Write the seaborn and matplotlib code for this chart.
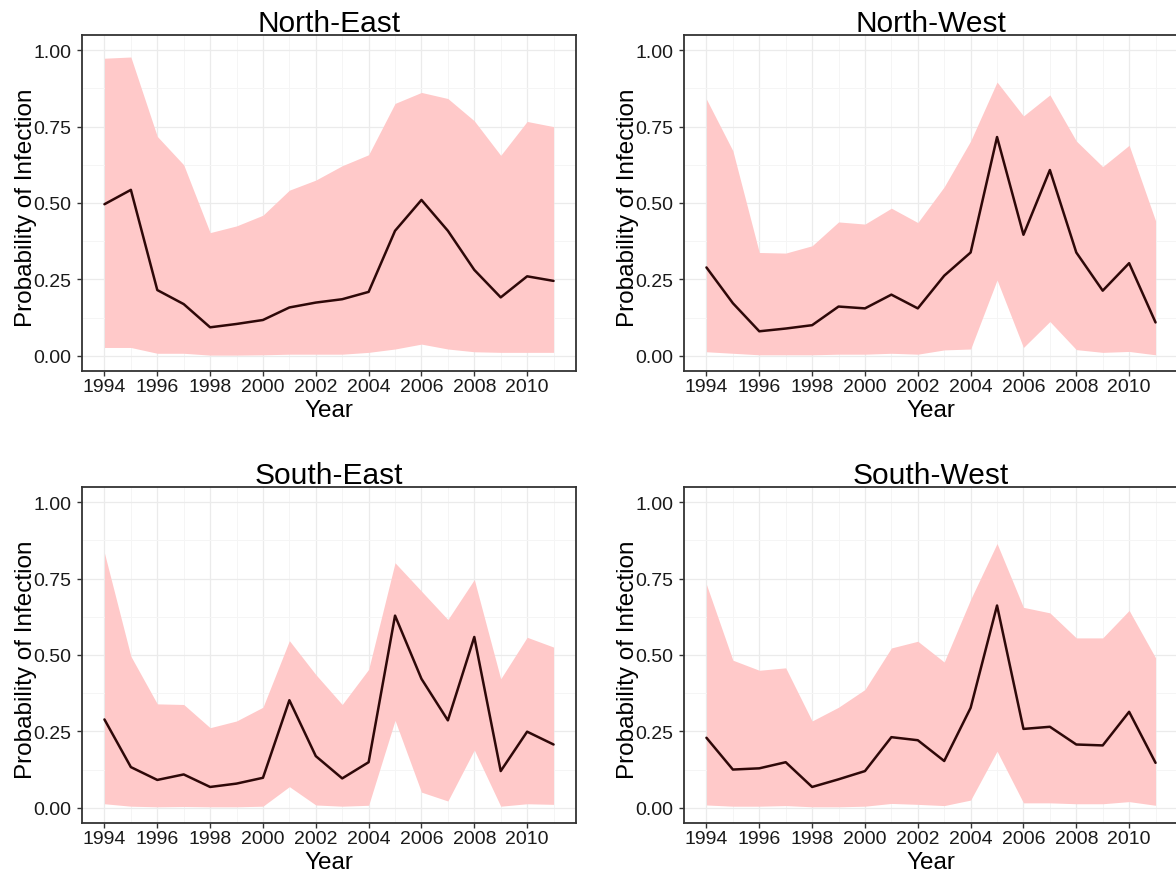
import numpy as np
import pandas as pd
import matplotlib
matplotlib.use("Agg")
import matplotlib.pyplot as plt
import seaborn as sns
from matplotlib.ticker import MultipleLocator

years = list(range(1994, 2012))
regions = ["North-East", "North-West", "South-East", "South-West"]

ne_mean = [0.496, 0.543, 0.215, 0.169, 0.093, 0.104, 0.117, 0.158, 0.174, 0.185, 0.209, 0.409, 0.510, 0.409, 0.281, 0.191, 0.260, 0.245]
ne_upper = [0.974, 0.978, 0.718, 0.625, 0.403, 0.425, 0.460, 0.542, 0.575, 0.622, 0.658, 0.826, 0.862, 0.842, 0.769, 0.656, 0.767, 0.750]
ne_lower = [0.027, 0.027, 0.008, 0.008, 0.002, 0.002, 0.003, 0.005, 0.005, 0.005, 0.011, 0.022, 0.038, 0.022, 0.013, 0.011, 0.011, 0.011]

nw_mean = [0.289, 0.172, 0.080, 0.089, 0.100, 0.161, 0.155, 0.200, 0.155, 0.262, 0.338, 0.716, 0.396, 0.608, 0.338, 0.213, 0.303, 0.109]
nw_upper = [0.840, 0.671, 0.338, 0.336, 0.360, 0.438, 0.431, 0.483, 0.436, 0.553, 0.703, 0.896, 0.785, 0.854, 0.703, 0.619, 0.689, 0.442]
nw_lower = [0.013, 0.008, 0.003, 0.003, 0.003, 0.005, 0.005, 0.008, 0.005, 0.019, 0.022, 0.248, 0.027, 0.112, 0.020, 0.011, 0.014, 0.003]

se_mean = [0.289, 0.133, 0.091, 0.109, 0.068, 0.079, 0.098, 0.352, 0.169, 0.096, 0.149, 0.629, 0.422, 0.286, 0.559, 0.120, 0.249, 0.207]
se_upper = [0.834, 0.496, 0.340, 0.338, 0.262, 0.284, 0.329, 0.547, 0.436, 0.338, 0.453, 0.802, 0.709, 0.616, 0.747, 0.422, 0.558, 0.526]
se_lower = [0.013, 0.005, 0.003, 0.004, 0.003, 0.003, 0.005, 0.069, 0.009, 0.005, 0.008, 0.286, 0.051, 0.022, 0.189, 0.005, 0.013, 0.011]

sw_mean = [0.229, 0.125, 0.129, 0.149, 0.068, 0.093, 0.120, 0.231, 0.221, 0.153, 0.327, 0.662, 0.258, 0.265, 0.207, 0.204, 0.314, 0.147]
sw_upper = [0.731, 0.483, 0.450, 0.458, 0.284, 0.329, 0.387, 0.523, 0.545, 0.477, 0.682, 0.865, 0.656, 0.638, 0.556, 0.556, 0.646, 0.491]
sw_lower = [0.009, 0.005, 0.005, 0.007, 0.003, 0.003, 0.005, 0.014, 0.011, 0.007, 0.025, 0.185, 0.016, 0.016, 0.013, 0.013, 0.020, 0.008]

means = [ne_mean, nw_mean, se_mean, sw_mean]
uppers = [ne_upper, nw_upper, se_upper, sw_upper]
lowers = [ne_lower, nw_lower, se_lower, sw_lower]

ytick_vals = [0.0, 0.25, 0.5, 0.75, 1.0]
ytick_labels = ["0.00", "0.25", "0.50", "0.75", "1.00"]
xtick_vals = list(range(1994, 2011, 2))

sns.set_theme(style="white")
plt.rcParams['font.family'] = ['Liberation Sans', 'DejaVu Sans']

W, H = 1176, 879
fig = plt.figure(figsize=(W / 100, H / 100), dpi=100)

# axes boxes in pixel coords: (left, top)
boxes = [(82, 36), (684, 36), (82, 488), (684, 488)]
bw, bh = 494, 336

for i, reg in enumerate(regions):
    l, t = boxes[i]
    ax = fig.add_axes([l / W, 1 - (t + bh) / H, bw / W, bh / H])
    df = pd.DataFrame({"Year": years, "mean": means[i], "lo": lowers[i], "hi": uppers[i]})
    ax.fill_between(df["Year"], df["lo"], df["hi"], color="#ffc9c9", linewidth=0, zorder=2)
    sns.lineplot(data=df, x="Year", y="mean", ax=ax, color="#2e0808", linewidth=1.8, zorder=3)
    ax.set_xlim(1993.15, 2011.85)
    ax.set_ylim(-0.05, 1.05)
    ax.set_xticks(xtick_vals)
    ax.set_xticklabels([str(v) for v in xtick_vals])
    ax.set_yticks(ytick_vals)
    ax.set_yticklabels(ytick_labels)
    ax.xaxis.set_minor_locator(MultipleLocator(1))
    ax.yaxis.set_minor_locator(MultipleLocator(0.125))
    ax.grid(True, which="major", color="#ebebeb", linewidth=0.9, zorder=0)
    ax.grid(True, which="minor", color="#f5f5f5", linewidth=0.7, zorder=0)
    ax.set_axisbelow(True)
    for sp in ax.spines.values():
        sp.set_visible(True)
        sp.set_color("#333333")
        sp.set_linewidth(1.3)
    ax.tick_params(axis="both", which="major", direction="out", length=3.6, width=1.0,
                   color="#333333", labelsize=14, labelcolor="#1a1a1a",
                   bottom=True, left=True)
    ax.tick_params(axis="x", which="major", pad=1.8)
    ax.tick_params(axis="y", which="major", pad=4)
    ax.tick_params(axis="both", which="minor", length=0)
    ax.set_title(reg, fontsize=21.5, color="black", pad=3)
    ax.set_xlabel("Year", fontsize=17.5, color="black")
    ax.set_ylabel("Probability of Infection", fontsize=17.5, color="black")
    ax.xaxis.set_label_coords(0.5, -0.083)
    ax.yaxis.set_label_coords(-0.091, 0.49)

fig.savefig("out.png", dpi=100)
